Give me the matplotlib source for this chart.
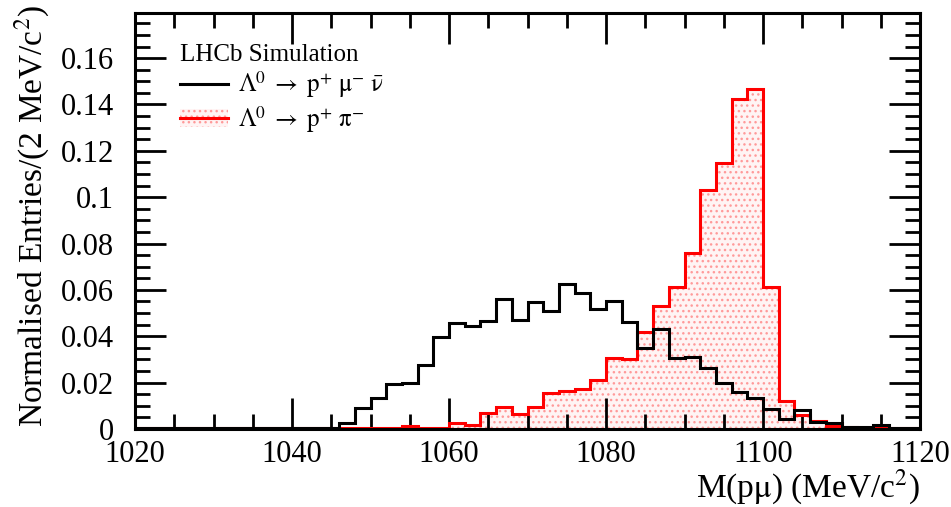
import matplotlib
matplotlib.use('Agg')
import matplotlib.pyplot as plt
from matplotlib.lines import Line2D
from matplotlib.patches import Patch
from matplotlib.ticker import MultipleLocator
import numpy as np

plt.rcParams['font.family'] = ['Liberation Serif', 'DejaVu Serif']
plt.rcParams['mathtext.fontset'] = 'stix'
plt.rcParams['hatch.linewidth'] = 1.0

# 2 MeV bins from 1020 to 1120
edges = np.arange(1020, 1122, 2)

# Lambda -> p mu nu (black)
semilep = [0.0002, 0.0002, 0.0002, 0.0002, 0.0002, 0.0002, 0.0002, 0.0002, 0.0002, 0.0002,
           0.0002, 0.0003, 0.0005, 0.0027, 0.0092, 0.0135, 0.0193, 0.0197, 0.0276, 0.0398,
           0.0456, 0.0445, 0.0466, 0.0560, 0.0470, 0.0549, 0.0509, 0.0626, 0.0586, 0.0517,
           0.0552, 0.0463, 0.0348, 0.0431, 0.0305, 0.0309, 0.0265, 0.0197, 0.0158, 0.0135,
           0.0085, 0.0043, 0.0082, 0.0029, 0.0025, 0.0010, 0.0008, 0.0016, 0.0005, 0.0003]

# Lambda -> p pi (red)
hadronic = [0.0002, 0.0002, 0.0002, 0.0002, 0.0002, 0.0002, 0.0002, 0.0002, 0.0002, 0.0002,
            0.0003, 0.0003, 0.0004, 0.0004, 0.0005, 0.0005, 0.0006, 0.0013, 0.0005, 0.0005,
            0.0025, 0.0016, 0.0068, 0.0096, 0.0063, 0.0096, 0.0157, 0.0165, 0.0171, 0.0211,
            0.0305, 0.0301, 0.0420, 0.0531, 0.0612, 0.0761, 0.1031, 0.1147, 0.1424, 0.1467,
            0.0614, 0.0121, 0.0058, 0.0034, 0.0014, 0.0008, 0.0005, 0.0008, 0.0003, 0.0002]

fig = plt.figure(figsize=(9.51, 5.07), dpi=100)
ax = fig.add_axes([0.142, 0.154, 0.8254, 0.8205])

fill_col = '#ff9a9a'
ax.stairs(hadronic, edges, fill=True, facecolor='#fff4f4', edgecolor=fill_col,
          linewidth=0, hatch='...', zorder=1)
ax.stairs(hadronic, edges, color='red', linewidth=2.2, baseline=0, zorder=2)
ax.stairs(semilep, edges, color='black', linewidth=2.2, baseline=0, zorder=3)

ax.set_xlim(1020, 1120)
ax.set_ylim(0, 0.1795)

ax.xaxis.set_major_locator(MultipleLocator(20))
ax.xaxis.set_minor_locator(MultipleLocator(5))
ax.yaxis.set_minor_locator(MultipleLocator(0.005))
ax.set_yticks([0, 0.02, 0.04, 0.06, 0.08, 0.1, 0.12, 0.14, 0.16])
ax.set_yticklabels(['0', '0.02', '0.04', '0.06', '0.08', '0.1', '0.12', '0.14', '0.16'])
ax.tick_params(which='both', direction='in', top=True, right=True, width=2, labelsize=22)
ax.tick_params(which='major', length=22)
ax.tick_params(which='minor', length=11)
ax.tick_params(axis='x', which='major', pad=8)
ax.tick_params(axis='y', which='major', pad=15)
for s in ax.spines.values():
    s.set_linewidth(2.2)

ax.set_xlabel(r'M(p$\mathrm{\mu}$) (MeV/c$^{2}$)', fontsize=24, loc='right', labelpad=-1)
ax.set_ylabel(r'Normalised Entries/(2 MeV/c$^{2}$)', fontsize=24, loc='top')
ax.yaxis.set_label_coords(-0.106, 1.019)

h_black = Line2D([], [], color='black', linewidth=2.2)
h_red = (Patch(facecolor='#fff4f4', edgecolor=fill_col, linewidth=0, hatch='...'),
         Line2D([], [], color='red', linewidth=2.2))
leg = ax.legend([h_black, h_red],
                [r'$\Lambda^{0}\; \rightarrow\; \mathrm{p}^{+}\ \mathrm{\mu}^{-}\ \bar{\mathrm{\nu}}$',
                 r'$\Lambda^{0}\; \rightarrow\; \mathrm{p}^{+}\ \mathrm{\pi}^{-}$'],
                title='LHCb Simulation', loc='upper left', bbox_to_anchor=(0.035, 0.968),
                frameon=False, fontsize=18, title_fontsize=18, handlelength=1.9,
                handletextpad=0.4, labelspacing=0.15, borderpad=0.2)
leg._legend_box.align = 'left'

fig.savefig('out.png', dpi=100)
